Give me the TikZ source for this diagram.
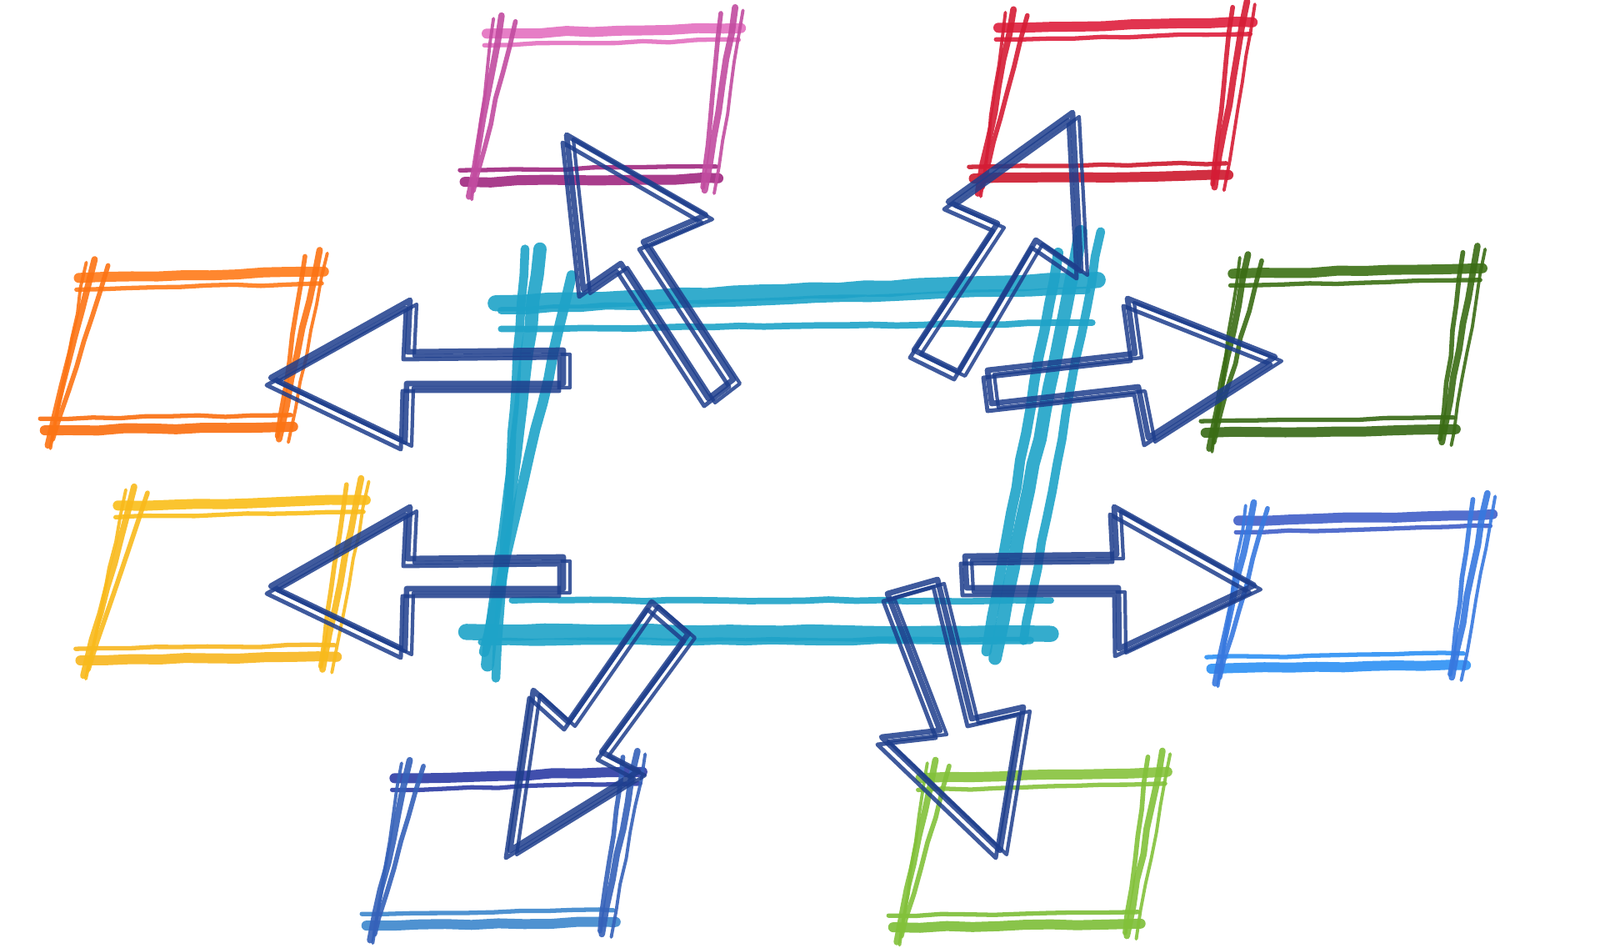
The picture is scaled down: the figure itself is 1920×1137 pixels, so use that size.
\documentclass[tikz,border=0pt]{standalone}
\usepackage{tikz}
\usetikzlibrary{calc,decorations.pathmorphing}

\definecolor{hubcyan}{RGB}{30,163,200}
\definecolor{arrownavy}{RGB}{30,62,140}
\definecolor{pinktop}{RGB}{228,112,192}
\definecolor{pinkbot}{RGB}{160,40,128}
\definecolor{redtop}{RGB}{222,30,60}
\definecolor{redbot}{RGB}{205,25,45}
\definecolor{orangetop}{RGB}{255,122,25}
\definecolor{orangebot}{RGB}{250,110,15}
\definecolor{yellowtop}{RGB}{250,190,25}
\definecolor{yellowbot}{RGB}{248,182,30}
\definecolor{greentop}{RGB}{60,112,20}
\definecolor{greenbot}{RGB}{55,105,20}
\definecolor{bluetop}{RGB}{65,95,200}
\definecolor{bluebot}{RGB}{45,145,245}
\definecolor{indigotop}{RGB}{45,60,165}
\definecolor{indigobot}{RGB}{60,135,205}
\definecolor{limetop}{RGB}{135,195,60}
\definecolor{limebot}{RGB}{125,190,55}

\tikzstyle{crayon}=[line cap=round, opacity=0.9, decorate, decoration={random steps, segment length=9pt, amplitude=0.35pt}]
\tikzstyle{arrowline}=[arrownavy, line cap=round, line join=round, opacity=0.85]

% a box drawn with crayon strokes, #1 = name, #2 = top colour, #3 = bottom colour
\newcommand{\crayonbox}[3]{%
  \draw[crayon, #2, line width=3.4pt] ($(#1tl)!-0.05!(#1tr)$) -- ($(#1tr)!-0.04!(#1tl)$);
  \draw[crayon, #2, line width=1.5pt] ($(#1tl)!-0.06!(#1tr)+(0,14)$) -- ($(#1tr)!-0.03!(#1tl)+(0,14)$);
  \draw[crayon, #3, line width=1.5pt] ($(#1bl)!-0.05!(#1br)+(0,-14)$) -- ($(#1br)!-0.04!(#1bl)+(0,-14)$);
  \draw[crayon, #3, line width=3.4pt] ($(#1bl)!-0.03!(#1br)$) -- ($(#1br)!-0.05!(#1bl)$);
  \draw[crayon, #2!50!#3, line width=2.2pt] ($(#1tl)!-0.12!(#1bl)$) -- ($(#1bl)!-0.1!(#1tl)$);
  \draw[crayon, #2!50!#3, line width=1.6pt] ($(#1tl)!-0.08!(#1bl)+(18,0)$) -- ($(#1bl)!-0.06!(#1tl)+(4,0)$);
  \draw[crayon, #2!50!#3, line width=1.1pt] ($(#1tl)!-0.1!(#1bl)+(-9,0)$) -- ($(#1bl)!-0.12!(#1tl)+(4,0)$);
  \draw[crayon, #2!50!#3, line width=2.2pt] ($(#1tr)!-0.14!(#1br)$) -- ($(#1br)!-0.08!(#1tr)$);
  \draw[crayon, #2!50!#3, line width=1.6pt] ($(#1tr)!-0.1!(#1br)+(-16,0)$) -- ($(#1br)!-0.06!(#1tr)+(-3,0)$);
  \draw[crayon, #2!50!#3, line width=1.1pt] ($(#1tr)!-0.12!(#1br)+(10,0)$) -- ($(#1br)!-0.1!(#1tr)+(12,0)$);
}

% a block arrow drawn three times, #1 = name
\newcommand{\crayonarrow}[1]{%
  \foreach \dx/\dy/\w in {0/0/1.9, 8/5/1.2, -5/9/1.4}
    \draw[arrowline, line width=\w pt] ([shift={(\dx,\dy)}]#1T) -- ([shift={(\dx,\dy)}]#1L) -- ([shift={(\dx,\dy)}]#1a) -- ([shift={(\dx,\dy)}]#1b) -- ([shift={(\dx,\dy)}]#1c) -- ([shift={(\dx,\dy)}]#1d) -- ([shift={(\dx,\dy)}]#1R) -- cycle;
}

\begin{document}
\begin{tikzpicture}[x=0.01cm, y=-0.01cm]
\fill[white] (0,0) rectangle (1920,1137);
\useasboundingbox (0,0) rectangle (1920,1137);

% hub in the middle
\coordinate (hubtl) at (640,362);
\coordinate (hubtr) at (1285,337);
\coordinate (hubbr) at (1200,760);
\coordinate (hubbl) at (590,758);
\draw[crayon, hubcyan, line width=5.5pt] ($(hubtl)!-0.07!(hubtr)$) -- ($(hubtr)!-0.05!(hubtl)$);
\draw[crayon, hubcyan, line width=2.5pt] ($(hubtl)!-0.06!(hubtr)+(0,9)$) -- ($(hubtr)!-0.03!(hubtl)+(0,12)$);
\draw[crayon, hubcyan, line width=2.2pt] ($(hubtl)!-0.06!(hubtr)+(0,31)$) -- ($(hubtr)!-0.04!(hubtl)+(0,51)$);
\draw[crayon, hubcyan, line width=5.5pt] ($(hubbl)!-0.05!(hubbr)$) -- ($(hubbr)!-0.1!(hubbl)$);
\draw[crayon, hubcyan, line width=2.5pt] ($(hubbl)!-0.02!(hubbr)+(0,12)$) -- ($(hubbr)!-0.06!(hubbl)+(0,8)$);
\draw[crayon, hubcyan, line width=2.2pt] ($(hubbl)!0.04!(hubbr)+(0,-38)$) -- ($(hubbr)!-0.1!(hubbl)+(0,-40)$);
\draw[crayon, hubcyan, line width=4.5pt] ($(hubtl)!-0.16!(hubbl)$) -- ($(hubbl)!-0.1!(hubtl)$);
\draw[crayon, hubcyan, line width=3pt] ($(hubtl)!-0.16!(hubbl)+(-18,0)$) -- ($(hubbl)!-0.14!(hubtl)+(12,0)$);
\draw[crayon, hubcyan, line width=3.5pt] ($(hubtl)!-0.08!(hubbl)+(42,0)$) -- ($(hubbl)!-0.06!(hubtl)+(-6,0)$);
\draw[crayon, hubcyan, line width=4.5pt] ($(hubtr)!-0.14!(hubbr)$) -- ($(hubbr)!-0.07!(hubtr)$);
\draw[crayon, hubcyan, line width=3pt] ($(hubtr)!-0.14!(hubbr)+(24,0)$) -- ($(hubbr)!-0.02!(hubtr)+(30,0)$);
\draw[crayon, hubcyan, line width=3.5pt] ($(hubtr)!-0.08!(hubbr)+(-22,0)$) -- ($(hubbr)!-0.05!(hubtr)+(-12,0)$);

% boxes around the hub
\coordinate (pinktl) at (598,40);
\coordinate (pinktr) at (878,34);
\coordinate (pinkbr) at (848,214);
\coordinate (pinkbl) at (566,218);
\coordinate (redtl) at (1212,33);
\coordinate (redtr) at (1492,27);
\coordinate (redbr) at (1460,210);
\coordinate (redbl) at (1177,214);
\coordinate (orangetl) at (108,333);
\coordinate (orangetr) at (378,326);
\coordinate (orangebr) at (338,512);
\coordinate (orangebl) at (62,516);
\coordinate (yellowtl) at (155,606);
\coordinate (yellowtr) at (428,600);
\coordinate (yellowbr) at (390,788);
\coordinate (yellowbl) at (105,792);
\coordinate (greentl) at (1493,328);
\coordinate (greentr) at (1768,322);
\coordinate (greenbr) at (1733,515);
\coordinate (greenbl) at (1455,519);
\coordinate (bluetl) at (1500,624);
\coordinate (bluetr) at (1780,617);
\coordinate (bluebr) at (1745,798);
\coordinate (bluebl) at (1462,802);
\coordinate (indigotl) at (487,933);
\coordinate (indigotr) at (760,926);
\coordinate (indigobr) at (725,1106);
\coordinate (indigobl) at (448,1110);
\coordinate (limetl) at (1118,933);
\coordinate (limetr) at (1390,926);
\coordinate (limebr) at (1355,1108);
\coordinate (limebl) at (1080,1112);
\crayonbox{pink}{pinktop}{pinkbot}
\crayonbox{red}{redtop}{redbot}
\crayonbox{orange}{orangetop}{orangebot}
\crayonbox{yellow}{yellowtop}{yellowbot}
\crayonbox{green}{greentop}{greenbot}
\crayonbox{blue}{bluetop}{bluebot}
\crayonbox{indigo}{indigotop}{indigobot}
\crayonbox{lime}{limetop}{limebot}

% arrows from the hub to the boxes
\coordinate (toOrangeT) at (325,453);
\coordinate (toOrangeL) at (492,360);
\coordinate (toOrangea) at (489,422);
\coordinate (toOrangeb) at (676,420);
\coordinate (toOrangec) at (676,460);
\coordinate (toOranged) at (488,460);
\coordinate (toOrangeR) at (486,530);
\coordinate (toYellowT) at (325,703);
\coordinate (toYellowL) at (492,608);
\coordinate (toYellowa) at (489,670);
\coordinate (toYellowb) at (676,668);
\coordinate (toYellowc) at (676,706);
\coordinate (toYellowd) at (488,706);
\coordinate (toYellowR) at (486,780);
\coordinate (toGreenT) at (1530,428);
\coordinate (toGreenL) at (1353,358);
\coordinate (toGreena) at (1362,424);
\coordinate (toGreenb) at (1185,444);
\coordinate (toGreenc) at (1190,484);
\coordinate (toGreend) at (1366,464);
\coordinate (toGreenR) at (1378,525);
\coordinate (toBlueT) at (1505,702);
\coordinate (toBlueL) at (1337,608);
\coordinate (toBluea) at (1340,665);
\coordinate (toBlueb) at (1158,667);
\coordinate (toBluec) at (1160,705);
\coordinate (toBlued) at (1342,705);
\coordinate (toBlueR) at (1343,778);
\coordinate (toPinkT) at (680,162);
\coordinate (toPinkL) at (700,347);
\coordinate (toPinka) at (745,316);
\coordinate (toPinkb) at (850,478);
\coordinate (toPinkc) at (880,455);
\coordinate (toPinkd) at (772,290);
\coordinate (toPinkR) at (847,258);
\coordinate (toRedT) at (1287,135);
\coordinate (toRedL) at (1138,242);
\coordinate (toReda) at (1197,268);
\coordinate (toRedb) at (1097,420);
\coordinate (toRedc) at (1150,446);
\coordinate (toRedd) at (1243,288);
\coordinate (toRedR) at (1297,325);
\coordinate (toIndigoT) at (612,1020);
\coordinate (toIndigoL) at (640,828);
\coordinate (toIndigoa) at (682,866);
\coordinate (toIndigob) at (782,722);
\coordinate (toIndigoc) at (826,760);
\coordinate (toIndigod) at (722,902);
\coordinate (toIndigoR) at (766,925);
\coordinate (toLimeT) at (1200,1020);
\coordinate (toLimeL) at (1058,884);
\coordinate (toLimea) at (1128,876);
\coordinate (toLimeb) at (1065,712);
\coordinate (toLimec) at (1125,695);
\coordinate (toLimed) at (1166,862);
\coordinate (toLimeR) at (1228,848);
\crayonarrow{toOrange}
\crayonarrow{toYellow}
\crayonarrow{toGreen}
\crayonarrow{toBlue}
\crayonarrow{toPink}
\crayonarrow{toRed}
\crayonarrow{toIndigo}
\crayonarrow{toLime}
\end{tikzpicture}
\end{document}
